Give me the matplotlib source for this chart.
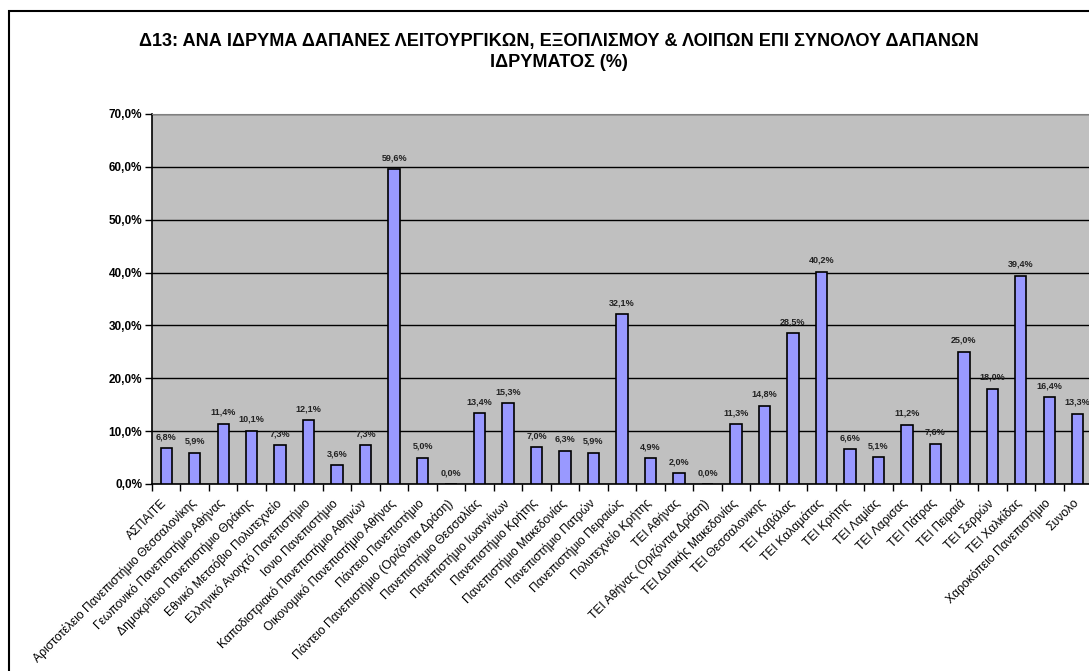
import numpy as np
from matplotlib import pyplot as plt
from matplotlib.patches import Rectangle
from matplotlib.transforms import ScaledTranslation

plt.rcParams['font.family'] = ['Liberation Sans', 'DejaVu Sans']

# ιδρύματα και ποσοστά (%)
institutions = [
    "ΑΣΠΑΙΤΕ",
    "Αριστοτέλειο Πανεπιστήμιο Θεσσαλονίκης",
    "Γεωπονικό Πανεπιστήμιο Αθήνας",
    "Δημοκρίτειο Πανεπιστήμιο Θράκης",
    "Εθνικό Μετσόβιο Πολυτεχνείο",
    "Ελληνικό Ανοιχτό Πανεπιστήμιο",
    "Ιονιο Πανεπιστήμιο",
    "Καποδιστριακό Πανεπιστήμιο Αθηνών",
    "Οικονομικό Πανεπιστήμιο Αθήνας",
    "Πάντειο Πανεπιστήμιο",
    "Πάντειο Πανεπιστήμιο (Οριζόντια Δράση)",
    "Πανεπιστήμιο Θεσσαλίας",
    "Πανεπιστήμιο Ιωαννίνων",
    "Πανεπιστήμιο Κρήτης",
    "Πανεπιστήμιο Μακεδονίας",
    "Πανεπιστήμιο Πατρών",
    "Πανεπιστήμιο Πειραιώς",
    "Πολυτεχνείο Κρήτης",
    "ΤΕΙ Αθήνας",
    "ΤΕΙ Αθήνας (Οριζόντια Δράση)",
    "ΤΕΙ Δυτικής Μακεδονίας",
    "ΤΕΙ Θεσσαλονικης",
    "ΤΕΙ Καβάλας",
    "ΤΕΙ Καλαμάτας",
    "ΤΕΙ Κρήτης",
    "ΤΕΙ Λαμίας",
    "ΤΕΙ Λαρισας",
    "ΤΕΙ Πάτρας",
    "ΤΕΙ Πειραιά",
    "ΤΕΙ Σερρών",
    "ΤΕΙ Χαλκίδας",
    "Χαροκόπειο Πανεπιστήμιο",
    "Συνολο",
]
percent = [6.8, 5.9, 11.4, 10.1, 7.3, 12.1, 3.6, 7.3, 59.6, 5.0, 0.0,
           13.4, 15.3, 7.0, 6.3, 5.9, 32.1, 4.9, 2.0, 0.0, 11.3, 14.8,
           28.5, 40.2, 6.6, 5.1, 11.2, 7.6, 25.0, 18.0, 39.4, 16.4, 13.3]

TITLE = ("Δ13: ΑΝΑ ΙΔΡΥΜΑ ΔΑΠΑΝΕΣ ΛΕΙΤΟΥΡΓΙΚΩΝ, ΕΞΟΠΛΙΣΜΟΥ & ΛΟΙΠΩΝ ΕΠΙ ΣΥΝΟΛΟΥ ΔΑΠΑΝΩΝ\n"
         "ΙΔΡΥΜΑΤΟΣ (%)")

W, H = 1089, 671
fig = plt.figure(figsize=(W / 100, H / 100), dpi=100)
fig.patch.set_facecolor("white")

# chart border (excel style), partly outside the picture
fig.patches.append(Rectangle((8.5 / W, -0.2), 1.2, 1.2 - 10.5 / H,
                             transform=fig.transFigure, fill=False,
                             edgecolor="black", linewidth=1.5))

ax = fig.add_axes([152 / W, (H - 484) / H, 940 / W, 370 / H])
ax.set_facecolor("#C0C0C0")

x_pos = np.arange(len(institutions))
ax.bar(x_pos, percent, 0.4, color="#9999FF", edgecolor="black",
       linewidth=1.2, zorder=3)

for xp, v in zip(x_pos, percent):
    ax.annotate(f"{v:.1f}%".replace(".", ","), (xp, v), xytext=(0, 5),
                textcoords="offset points", ha="center", va="bottom",
                fontsize=6.5, fontweight="bold", color="#222222")

ax.set_xlim(-0.5, len(institutions) - 0.5)
ax.set_ylim(0, 70)
ax.set_yticks(np.arange(0, 71, 10))
ax.set_yticklabels([f"{t:.1f}%".replace(".", ",") for t in np.arange(0, 71, 10)],
                   fontsize=8.5, fontweight="bold")
ax.yaxis.grid(True, color="black", linewidth=1.0, zorder=1)
ax.set_axisbelow(True)

ax.set_xticks(x_pos)
ax.set_xticklabels(institutions, rotation=45, ha="right", va="top",
                   rotation_mode="anchor", fontsize=8.75)
ax.tick_params(axis="x", length=0, pad=8)
shift = ScaledTranslation(-5 / 100, -2 / 100, fig.dpi_scale_trans)
for lbl in ax.get_xticklabels():
    lbl.set_transform(lbl.get_transform() + shift)
ax.set_xticks(np.arange(-0.5, len(institutions)), minor=True)
ax.tick_params(axis="x", which="minor", length=5, width=1, direction="out")
ax.tick_params(axis="y", length=5, width=1, direction="out", pad=2)

for side in ("left", "bottom"):
    ax.spines[side].set_color("black")
    ax.spines[side].set_linewidth(1.2)
ax.spines["top"].set_color("#808080")
ax.spines["right"].set_visible(False)

fig.text(559 / W, 1 - 52 / H, TITLE, ha="center", va="center",
         fontsize=13.1, fontweight="bold", linespacing=1.25)

fig.savefig("out.png", dpi=100)
